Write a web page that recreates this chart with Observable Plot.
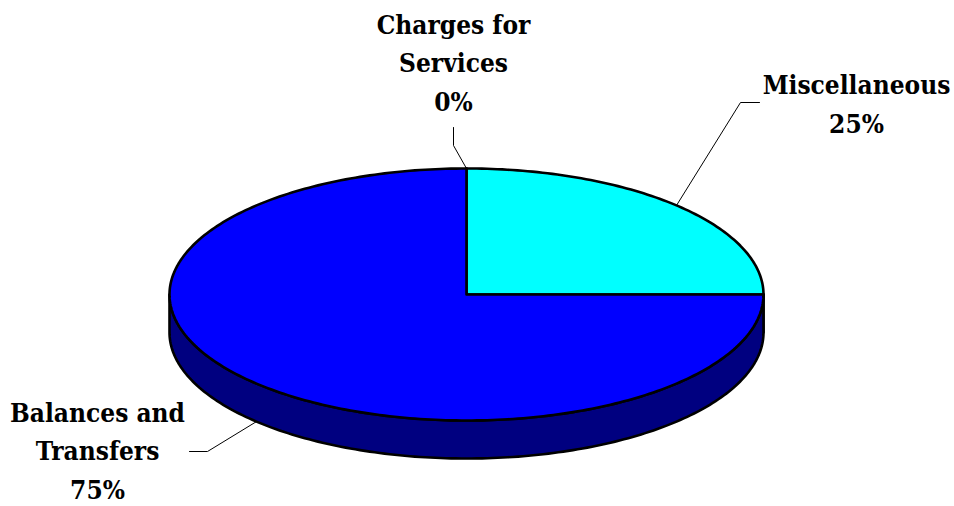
<!DOCTYPE html>
<html>
<head>
<meta charset="utf-8">
<script src="https://cdn.jsdelivr.net/npm/d3@7"></script>
<script src="https://cdn.jsdelivr.net/npm/@observablehq/plot@0.6"></script>
<style>
  body { margin: 0; background: #fff; }
  svg { display: block; background: #fff; }
  svg text { font-stretch: condensed; }
</style>
</head>
<body>
<div id="chart"></div>
<script>
// Revenue sources, as shares of the total
const categories = ["Charges for Services", "Miscellaneous", "Balances and Transfers"];
const labelLines = [["Charges for", "Services"], ["Miscellaneous"], ["Balances and", "Transfers"]];
const shares = [0, 25, 75];
const topColors = ["#9999ff", "#00ffff", "#0000ff"];
const sideColors = ["#4c4c80", "#008080", "#000080"];

// Pie geometry (pixel units of the x/y scales)
const W = 954, H = 506;
const cx = 466, cy = 294, rx = 297, ry = 126, depth = 38;

// Label placement: text anchor (x, baseline of last line) and leader elbow/end
const labelLayout = [
  {tx: 453, ty: 110, knee: [453, 145], end: [453, 127]},
  {tx: 856, ty: 132, knee: [740, 102], end: [759, 102]},
  {tx: 97,  ty: 498, knee: [207, 451], end: [189, 451]}
];

const total = d3.sum(shares);
const arcs = d3.pie().sort(null).startAngle(0).endAngle(2 * Math.PI)(shares);

const pt = (a, dz = 0) => ({x: cx + rx * Math.sin(a), y: cy - ry * Math.cos(a) + dz});
function arcPoints(a0, a1, dz = 0) {
  const n = Math.max(1, Math.ceil(Math.abs(a1 - a0) / (Math.PI / 180)));
  return d3.range(n + 1).map(i => pt(a0 + (a1 - a0) * i / n, dz));
}

const slices = arcs.map((a, i) => {
  const top = [{x: cx, y: cy}, ...arcPoints(a.startAngle, a.endAngle)];
  // visible rim: the front half of the ellipse
  const s = Math.max(a.startAngle, Math.PI / 2), e = Math.min(a.endAngle, 3 * Math.PI / 2);
  const side = s < e ? [...arcPoints(s, e), ...arcPoints(e, s, depth)] : null;
  const mid = (a.startAngle + a.endAngle) / 2;
  const front = mid > Math.PI / 2 && mid < 3 * Math.PI / 2;
  const anchor = pt(mid, front ? depth : 0);
  const L = labelLayout[i];
  const pct = Math.round(shares[i] / total * 100);
  return {
    category: categories[i], top, side, topColor: topColors[i], sideColor: sideColors[i],
    leader: [anchor, {x: L.knee[0], y: L.knee[1]}, {x: L.end[0], y: L.end[1]}],
    label: {x: L.tx, y: L.ty, text: [...labelLines[i], `${pct}%`].join("\n")}
  };
});

const outline = {x: "x", y: "y", stroke: "black", strokeWidth: 2.6, strokeLinejoin: "round", curve: "linear-closed"};

const chart = Plot.plot({
  width: W, height: H, margin: 0,
  x: {domain: [0, W], range: [0, W], axis: null},
  y: {domain: [0, H], range: [0, H], axis: null},
  marks: [
    ...slices.filter(s => s.side).map(s => Plot.line(s.side, {...outline, fill: s.sideColor})),
    ...slices.map(s => Plot.line(s.top, {...outline, fill: s.topColor})),
    ...slices.map(s => Plot.line(s.leader, {x: "x", y: "y", stroke: "black", strokeWidth: 1})),
    Plot.text(slices.map(s => s.label), {
      x: "x", y: "y", text: "text",
      textAnchor: "middle", lineAnchor: "bottom", lineHeight: 1.48,
      fontSize: 26, fontWeight: "bold", fontFamily: "DejaVu Serif Condensed, DejaVu Serif, serif", fill: "black"
    })
  ]
});

document.getElementById("chart").appendChild(chart);
</script>
</body>
</html>
